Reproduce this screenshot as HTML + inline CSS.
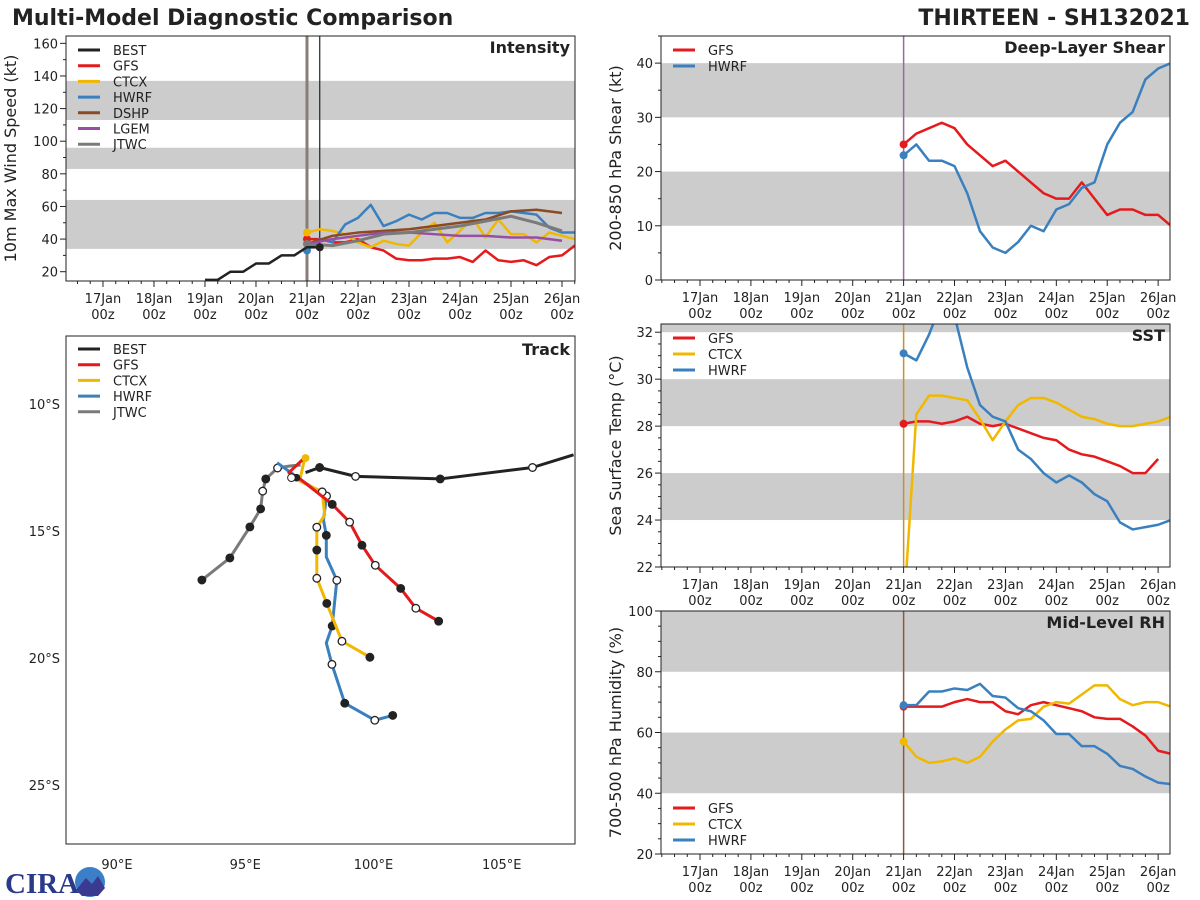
<!DOCTYPE html>
<html><head><meta charset="utf-8">
<style>
html,body{margin:0;padding:0;background:#fff;}
svg{display:block;font-family:"DejaVu Sans","Liberation Sans",sans-serif;}
</style></head>
<body>
<svg id="chart" width="1200" height="900" viewBox="0 0 1200 900" xmlns="http://www.w3.org/2000/svg">
<text x="12" y="25" font-size="22" font-weight="bold" fill="#222">Multi-Model Diagnostic Comparison</text>
<text x="1190" y="25" font-size="22" font-weight="bold" fill="#222" text-anchor="end">THIRTEEN - SH132021</text>
<g>
<text x="5" y="893" font-size="29" font-weight="bold" fill="#2a3a8a" font-family="Liberation Serif,serif">CIRA</text>
<circle cx="90" cy="882" r="15" fill="#3a7fc8"/>
<path d="M76 890 L86 878 L92 884 L98 876 L105 888 L98 896 L82 896 Z" fill="#3a3a90"/>
</g>
</svg>
<script>
// ---------- Data ----------
const dayLabels = ["17Jan","18Jan","19Jan","20Jan","21Jan","22Jan","23Jan","24Jan","25Jan","26Jan"];
const bestDays = [2.0,2.25,2.5,2.75,3.0,3.25,3.5,3.75,4.0,4.25];
const bestWind = [15,15,20,20,25,25,30,30,35,35];
const intGFS  = [40,40,38,38,40,35,33,28,27,27,28,28,29,26,33,27,26,27,24,29,30,36,36];
const intCTCX = [44,46,45,43,38,35,39,37,36,44,50,38,45,53,41,52,43,43,38,44,42,40,40];
const intHWRF = [33,40,38,49,53,61,48,51,55,52,56,56,53,53,56,56,57,56,55,47,44,44,44];
const intDSHP = [37,42,44,45,46,48,50,52,57,58,56];
const intLGEM = [37,40,42,44,44,43,42,42,41,41,39];
const intJTWC = [37,36,39,43,44,46,48,51,54,50,45];
const shearGFS  = [25,27,28,29,28,25,23,21,22,20,18,16,15,15,18,15,12,13,13,12,12,10];
const shearHWRF = [23,25,22,22,21,16,9,6,5,7,10,9,13,14,17,18,25,29,31,37,39,40];
const sstGFS  = [28.1,28.2,28.2,28.1,28.2,28.4,28.1,28.0,28.1,27.9,27.7,27.5,27.4,27.0,26.8,26.7,26.5,26.3,26.0,26.0,26.6];
const sstCTCX = [20.0,28.5,29.3,29.3,29.2,29.1,28.3,27.4,28.2,28.9,29.2,29.2,29.0,28.7,28.4,28.3,28.1,28.0,28.0,28.1,28.2,28.4];
const sstHWRF = [31.1,30.8,31.9,33.3,32.7,30.5,28.9,28.4,28.2,27.0,26.6,26.0,25.6,25.9,25.6,25.1,24.8,23.9,23.6,23.7,23.8,24.0];
const rhGFS  = [68.5,68.5,68.5,68.5,70,71,70,70,67,66,69,70,69,68,67,65,64.5,64.5,62,59,54,53];
const rhCTCX = [57,52,50,50.5,51.5,50,52,57,61,64,64.5,68.5,70,69.5,72.5,75.5,75.5,71,69,70,70,68.5];
const rhHWRF = [69,69,73.5,73.5,74.5,74,76,72,71.5,68,67,64,59.5,59.5,55.5,55.5,53,49,48,45.5,43.5,43];
// track positions (lon E, lat S) and marker kinds (0 none, 1 filled, 2 open)
const trkBestLon = [107.8,106.2,102.6,99.3,97.9,97.35];
const trkBestLat = [12.0,12.5,12.95,12.85,12.5,12.7];
const trkBestMk  = [0,2,1,2,1,0];
const trkGFSLon = [97.3,96.7,97.2,98.39,99.07,99.55,100.07,101.06,101.65,102.54];
const trkGFSLat = [12.13,12.7,13.0,13.95,14.65,15.56,16.35,17.26,18.04,18.55];
const trkGFSMk  = [0,0,0,1,2,1,2,1,2,1];
const trkCTCXLon = [97.32,97.12,98.0,98.1,97.79,97.79,97.79,98.18,98.77,99.86];
const trkCTCXLat = [12.13,13.03,13.46,14.37,14.85,15.75,16.86,17.85,19.34,19.97];
const trkCTCXMk  = [0,0,2,0,2,1,2,1,2,1];
const trkHWRFLon = [96.24,97.28,98.17,98.05,98.16,98.16,98.57,98.39,98.16,98.38,98.88,100.05,100.75];
const trkHWRFLat = [12.31,13.07,13.62,14.57,15.17,16.02,16.94,18.74,19.41,20.25,21.78,22.45,22.26];
const trkHWRFMk  = [0,0,2,0,1,0,2,1,0,2,1,2,1];
const trkJTWCLon = [97.16,96.73,96.26,95.8,95.68,95.6,95.18,94.4,93.31];
const trkJTWCLat = [12.4,12.44,12.52,12.95,13.43,14.13,14.84,16.06,16.93];
const trkJTWCMk  = [0,0,2,1,2,1,1,1,1];

const C = {BEST:"#222222",GFS:"#e41a1c",CTCX:"#f0b800",HWRF:"#3a80bf",DSHP:"#8b4a22",LGEM:"#984ea3",JTWC:"#7a7a7a"};
const NS="http://www.w3.org/2000/svg";
const svg=document.getElementById('chart');
function mk(tag,attrs,parent){const e=document.createElementNS(NS,tag);for(const k in attrs)e.setAttribute(k,attrs[k]);(parent||svg).appendChild(e);return e;}

function makePanel(p){
  const g=mk('g',{});
  
  
  p.g=g;
  p.sx=d=>p.x0+(d-p.dmin)/(p.dmax-p.dmin)*(p.x1-p.x0);
  p.sy=v=>p.y1-(v-p.ymin)/(p.ymax-p.ymin)*(p.y1-p.y0);
  const cp='clip-'+p.name;
  const defs=mk('defs',{},g);const cl=mk('clipPath',{id:cp},defs);mk('rect',{x:p.x0,y:p.y0,width:p.x1-p.x0,height:p.y1-p.y0},cl);
  p.clip='url(#'+cp+')';
  p.bands.forEach(b=>{
    const top=Math.min(b[1],p.ymax);
    const r=mk('rect',{x:p.x0,y:p.sy(top),width:p.x1-p.x0,height:p.sy(b[0])-p.sy(top),fill:'#cccccc'},g);
    
    
  });
  return p;
}
function frame(p){
  const r=mk('rect',{x:p.x0,y:p.y0,width:p.x1-p.x0,height:p.y1-p.y0,fill:'none',stroke:'#222','stroke-width':1},p.g);
  
  
}
function timeAxis(p){
  const ax=mk('g',{},p.g);
  
  
  for(let q=Math.ceil(p.dmin*4);q<=p.dmax*4;q++){
    const d=q/4,x=p.sx(d),major=q%4===0;
    mk('line',{x1:x,x2:x,y1:p.y1,y2:p.y1+(major?6:3),stroke:'#222'},ax);
    if(major&&dayLabels[d]){
      const t=mk('text',{x:x,y:p.y1+22,'font-size':13,'text-anchor':'middle',fill:'#222'},ax);t.textContent=dayLabels[d];
      
      
      const t2=mk('text',{x:x,y:p.y1+38,'font-size':13,'text-anchor':'middle',fill:'#222'},ax);t2.textContent='00z';
      
      
    }
  }
}
function yAxis(p){
  const ax=mk('g',{},p.g);
  
  
  for(let v=Math.ceil(p.ymin/p.minor)*p.minor;v<=p.ymax+1e-9;v+=p.minor){
    const y=p.sy(v),major=Math.abs(v/p.major-Math.round(v/p.major))<1e-6;
    mk('line',{x1:p.x0,x2:p.x0-(major?6:3),y1:y,y2:y,stroke:'#222'},ax);
    if(major){const t=mk('text',{x:p.x0-8,y:y+5,'font-size':13,'text-anchor':'end',fill:'#222'},ax);t.textContent=Math.round(v);
      
      }
  }
  const tt=mk('text',{x:0,y:0,'font-size':16,'text-anchor':'middle',fill:'#222',transform:`translate(${p.ytx},${(p.y0+p.y1)/2}) rotate(-90)`},ax);
  tt.textContent=p.ytitle;
  
  
  const pt=mk('text',{x:p.x1-5,y:p.y0+17,'font-size':16,'font-weight':'bold','text-anchor':'end',fill:'#222'},p.g);
  pt.textContent=p.title;
  
  
}
function series(p,days,vals,color,name,dot,w){
  const pts=vals.map((v,i)=>p.sx(days[i])+','+p.sy(v)).join(' ');
  const l=mk('polyline',{points:pts,fill:'none',stroke:color,'stroke-width':w||2.5,'clip-path':p.clip,'stroke-linejoin':'round'},p.g);
  
  
  if(dot){const c=mk('circle',{cx:p.sx(days[0]),cy:p.sy(vals[0]),r:4,fill:color,'clip-path':p.clip},p.g);
    
    }
}
function steps(vals,start,step){return vals.map((v,i)=>start+i*step);}
function vline(p,d,color,w){const l=mk('line',{x1:p.sx(d),x2:p.sx(d),y1:p.y0,y2:p.y1,stroke:color,'stroke-width':w},p.g);
  
  }
function legend(p,items,x,y,dy){
  const lg=mk('g',{},p.g);
  
  
  items.forEach((it,i)=>{
    const yy=y+i*dy;
    const e=mk('g',{},lg);
    
    
    mk('line',{x1:x,x2:x+22,y1:yy,y2:yy,stroke:C[it],'stroke-width':3},e);
    const t=mk('text',{x:x+35,y:yy+5,'font-size':13,fill:'#222'},e);t.textContent=it;
  });
}

// ---------- Intensity ----------
const pI=makePanel({name:'intensity-panel',x0:66,x1:575,y0:36,y1:281,dmin:-0.725,dmax:9.255,ymin:14.3,ymax:164.5,bands:[[34,64],[83,96],[113,137]],major:20,minor:10,ytitle:'10m Max Wind Speed (kt)',ytx:16,title:'Intensity'});
vline(pI,4.0,'#8a7c78',3);vline(pI,4.25,'#222',1.2);
series(pI,steps(intGFS,4,0.25),intGFS,C.GFS,'gfs-intensity',true);
series(pI,steps(intCTCX,4,0.25),intCTCX,C.CTCX,'ctcx-intensity',true);
series(pI,steps(intHWRF,4,0.25),intHWRF,C.HWRF,'hwrf-intensity',true);
series(pI,steps(intDSHP,4,0.5),intDSHP,C.DSHP,'dshp-intensity',false);
series(pI,steps(intLGEM,4,0.5),intLGEM,C.LGEM,'lgem-intensity',false);
series(pI,steps(intJTWC,4,0.5),intJTWC,C.JTWC,'jtwc-intensity',true,3);
series(pI,bestDays,bestWind,C.BEST,'best-intensity',false);
mk('circle',{cx:pI.sx(4.25),cy:pI.sy(35),r:4,fill:C.BEST},pI.g);
frame(pI);timeAxis(pI);yAxis(pI);
legend(pI,['BEST','GFS','CTCX','HWRF','DSHP','LGEM','JTWC'],78,50,15.7);

// ---------- Shear ----------
const pS=makePanel({name:'shear-panel',x0:661,x1:1170,y0:36,y1:280,dmin:-0.766,dmax:9.233,ymin:0,ymax:45,bands:[[10,20],[30,40]],major:10,minor:5,ytitle:'200-850 hPa Shear (kt)',ytx:621,title:'Deep-Layer Shear'});
vline(pS,4.0,'#9b6a9b',1.5);
series(pS,steps(shearGFS,4,0.25),shearGFS,C.GFS,'gfs-shear',true);
series(pS,steps(shearHWRF,4,0.25),shearHWRF,C.HWRF,'hwrf-shear',true);
frame(pS);timeAxis(pS);yAxis(pS);
legend(pS,['GFS','HWRF'],673,50,16);

// ---------- SST ----------
const pT=makePanel({name:'sst-panel',x0:661,x1:1170,y0:324,y1:567,dmin:-0.766,dmax:9.233,ymin:22,ymax:32.35,bands:[[24,26],[28,30],[32,33]],major:2,minor:0.5,ytitle:'Sea Surface Temp (°C)',ytx:621,title:'SST'});
vline(pT,4.0,'#c89030',1.5);
series(pT,steps(sstGFS,4,0.25),sstGFS,C.GFS,'gfs-sst',true);
series(pT,steps(sstCTCX,4,0.25),sstCTCX,C.CTCX,'ctcx-sst',false);
series(pT,steps(sstHWRF,4,0.25),sstHWRF,C.HWRF,'hwrf-sst',true);
frame(pT);timeAxis(pT);yAxis(pT);
legend(pT,['GFS','CTCX','HWRF'],673,338,16);

// ---------- RH ----------
const pR=makePanel({name:'rh-panel',x0:661,x1:1170,y0:611,y1:854,dmin:-0.766,dmax:9.233,ymin:20,ymax:100,bands:[[40,60],[80,100]],major:20,minor:5,ytitle:'700-500 hPa Humidity (%)',ytx:621,title:'Mid-Level RH'});
vline(pR,4.0,'#8a5a3a',1.5);
series(pR,steps(rhGFS,4,0.25),rhGFS,C.GFS,'gfs-rh',true);
series(pR,steps(rhCTCX,4,0.25),rhCTCX,C.CTCX,'ctcx-rh',true);
series(pR,steps(rhHWRF,4,0.25),rhHWRF,C.HWRF,'hwrf-rh',true);
frame(pR);timeAxis(pR);yAxis(pR);
legend(pR,['GFS','CTCX','HWRF'],673,808,16);

// ---------- Track ----------
const tr={x0:66,x1:575,y0:336,y1:844};
const lonX=lon=>117+(lon-90)*25.65;
const latY=lat=>404+(lat-10)*25.4;
const tg=mk('g',{});


const tdefs=mk('defs',{},tg);const tcl=mk('clipPath',{id:'clip-track'},tdefs);mk('rect',{x:tr.x0,y:tr.y0,width:tr.x1-tr.x0,height:tr.y1-tr.y0},tcl);
function track(lons,lats,marks,color,name){
  const pts=lons.map((l,i)=>lonX(l)+','+latY(lats[i])).join(' ');
  const g=mk('g',{'clip-path':'url(#clip-track)'},tg);
  
  
  mk('polyline',{points:pts,fill:'none',stroke:color,'stroke-width':3,'stroke-linejoin':'round'},g);
  lons.forEach((l,i)=>{ if(!marks[i]) return;
    const c=mk('circle',{cx:lonX(l),cy:latY(lats[i]),r:3.8,fill:marks[i]===1?'#222':'#fff',stroke:'#222','stroke-width':1.3},g);
    
    
  });
}
track(trkJTWCLon,trkJTWCLat,trkJTWCMk,C.JTWC,'jtwc-track');
track(trkHWRFLon,trkHWRFLat,trkHWRFMk,C.HWRF,'hwrf-track');
track(trkCTCXLon,trkCTCXLat,trkCTCXMk,C.CTCX,'ctcx-track');
track(trkGFSLon,trkGFSLat,trkGFSMk,C.GFS,'gfs-track');
track(trkBestLon,trkBestLat,trkBestMk,C.BEST,'best-track');
mk('circle',{cx:lonX(97.35),cy:latY(12.13),r:4,fill:C.CTCX},tg);
mk('circle',{cx:lonX(97.0),cy:latY(12.9),r:3.8,fill:'#222'},tg);
mk('circle',{cx:lonX(96.8),cy:latY(12.9),r:3.8,fill:'#fff',stroke:'#222'},tg);
mk('rect',{x:tr.x0,y:tr.y0,width:tr.x1-tr.x0,height:tr.y1-tr.y0,fill:'none',stroke:'#222'},tg);
const lonTicks=[90,95,100,105], latTicks=[10,15,20,25];
lonTicks.forEach(l=>{const t=mk('text',{x:lonX(l),y:869,'font-size':13,'text-anchor':'middle',fill:'#222'},tg);t.textContent=l+'°E';
  
  });
latTicks.forEach(l=>{const t=mk('text',{x:60,y:latY(l)+5,'font-size':13,'text-anchor':'end',fill:'#222'},tg);t.textContent=l+'°S';
  
  });
const tt=mk('text',{x:tr.x1-5,y:tr.y0+19,'font-size':16,'font-weight':'bold','text-anchor':'end',fill:'#222'},tg);tt.textContent='Track';


legend({g:tg},['BEST','GFS','CTCX','HWRF','JTWC'],78,349,15.7);
</script>
</body></html>
